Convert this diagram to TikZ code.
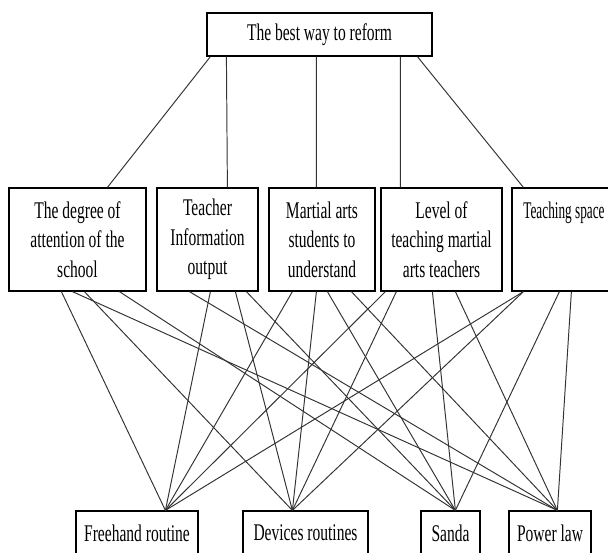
\documentclass[tikz,border=0pt]{standalone}
\usepackage{fontspec}
\setmainfont{Liberation Serif}[FakeStretch=0.65]
\newfontfamily\narrowserif{Liberation Serif}[FakeStretch=0.555]
\usetikzlibrary{calc}

\begin{document}
\begin{tikzpicture}
	[%
	x=0.02cm, y=-0.02cm,
	font=\fontsize{13.6pt}{16.8pt}\selectfont,
	goal/.style  ={rectangle,	draw=black,	line width=0.7pt,	inner sep=0pt,	minimum height=0.86cm},%
	factor/.style={rectangle,	draw=black,	line width=0.7pt,	inner sep=0pt,	minimum height=2.06cm,	align=center},%
	plan/.style  ={rectangle,	draw=black,	line width=0.7pt,	inner sep=0pt,	minimum height=0.88cm},%
	link/.style  ={draw=black!80,	line width=0.55pt},%
	]

	\path[use as bounding box, clip] (0,0) rectangle (608,552);

	% nodes
	\node (goal) at (319.5,34.5) [goal, minimum width=4.5cm] {The best way to reform};

	\node (degree)   at ( 77.5,239.5) [factor, minimum width=2.74cm] {The degree of\\attention of the\\school};
	\node (info)     at (207.5,239.5) [factor, minimum width=2.02cm] {Teacher\\Information\\output};
	\node (students) at (322.0,239.5) [factor, minimum width=2.12cm] {Martial arts\\students to\\understand};
	\node (level)    at (441.5,239.5) [factor, minimum width=2.42cm] {Level of\\teaching martial\\arts teachers};
	\node (space)    at (564.0,239.5) [factor, minimum width=2.08cm, text height=0.6cm, text depth=1.46cm] {\narrowserif Teaching space};

	\node (freehand) at (137.0,533) [plan, minimum width=2.44cm] {Freehand routine};
	\node (devices)  at (305.5,533) [plan, minimum width=2.50cm] {Devices routines};
	\node (sanda)    at (450.5,533) [plan, minimum width=1.18cm] {Sanda};
	\node (power)    at (550.0,533) [plan, minimum width=1.64cm] {Power law};

	\coordinate (freehand-in) at ($(freehand.north west)+(90,0)$);
	\coordinate (devices-in)  at ($(devices.north west)+(50,0)$);
	\coordinate (sanda-in)    at ($(sanda.north west)+(35,0)$);
	\coordinate (power-in)    at ($(power.north west)+(49,0)$);

	% goal to factors
	\foreach \f/\a/\b in {degree/4/99, info/20/71, students/110/48, level/194/20, space/211/12}
		\draw [link] ($(goal.south west)+(\a,0)$) -- ($(\f.north west)+(\b,0)$);

	% factors to plans
	\foreach \f/\a/\p in {degree/53/freehand, degree/76/devices, degree/111/sanda, degree/64/power,
		info/54/freehand, info/79/devices, info/90/sanda, info/33/power,
		students/24/freehand, students/48/devices, students/59/sanda, students/83/power,
		level/5/freehand, level/16/devices, level/52/sanda, level/75/power,
		space/12/freehand, space/12/devices, space/48/sanda, space/60/power}
		\draw [link] ($(\f.south west)+(\a,0)$) -- (\p-in);

\end{tikzpicture}
\end{document}
